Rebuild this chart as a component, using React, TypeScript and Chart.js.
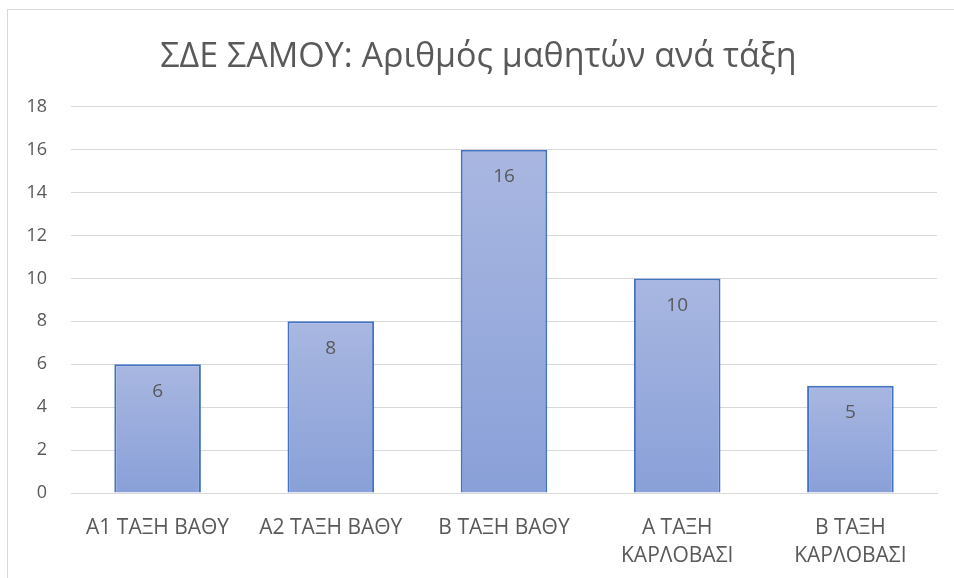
import React, { useEffect, useRef } from "react";
import { Chart, registerables } from "chart.js";

Chart.register(...registerables);

const categories: (string | string[])[] = [
  "Α1 ΤΑΞΗ ΒΑΘΥ",
  "Α2 ΤΑΞΗ ΒΑΘΥ",
  "Β ΤΑΞΗ ΒΑΘΥ",
  ["Α ΤΑΞΗ", "ΚΑΡΛΟΒΑΣΙ"],
  ["Β ΤΑΞΗ", "ΚΑΡΛΟΒΑΣΙ"],
];
const students = [6, 8, 16, 10, 5];
const yMin = 0;
const yMax = 18;
const yStep = 2;
const titleText = "ΣΔΕ ΣΑΜΟΥ: Αριθμός μαθητών ανά τάξη";

const FONT = "'Open Sans', sans-serif";
const GRAY = "#595959";

const valueLabels = {
  id: "valueLabels",
  afterDatasetsDraw(chart: any) {
    const ctx = chart.ctx;
    const meta = chart.getDatasetMeta(0);
    ctx.save();
    ctx.font = `19px ${FONT}`;
    ctx.fillStyle = GRAY;
    ctx.textAlign = "center";
    ctx.textBaseline = "middle";
    meta.data.forEach((bar: any, i: number) => {
      ctx.fillText(String(students[i]), bar.x, bar.y + 27);
    });
    ctx.restore();
  },
};

export default function App() {
  const ref = useRef<HTMLCanvasElement | null>(null);
  useEffect(() => {
    if (!ref.current) return;
    const chart = new Chart(ref.current, {
      type: "bar",
      data: {
        labels: categories,
        datasets: [
          {
            data: students,
            backgroundColor: (c: any) => {
              const ch = c.chart;
              const y = ch.scales?.y;
              if (!ch.chartArea || !y || c.dataIndex === undefined) return "#99abdc";
              const top = y.getPixelForValue(students[c.dataIndex]);
              const bottom = y.getPixelForValue(0);
              if (!isFinite(top) || !isFinite(bottom) || top === bottom) return "#99abdc";
              const g = ch.ctx.createLinearGradient(0, top, 0, bottom);
              g.addColorStop(0, "#a9b7e1");
              g.addColorStop(1, "#89a0d8");
              return g;
            },
            borderColor: "#4472c4",
            borderWidth: 2,
            barPercentage: 0.5,
            categoryPercentage: 1,
          },
        ],
      },
      options: {
        animation: false,
        responsive: true,
        maintainAspectRatio: false,
        layout: { padding: { left: 20, right: 17, top: 20, bottom: 0 } },
        plugins: {
          legend: { display: false },
          tooltip: { enabled: false },
          title: {
            display: true,
            text: titleText,
            color: GRAY,
            font: { family: FONT, size: 34, weight: "normal" },
            padding: { top: 17, bottom: 29 },
          },
        },
        scales: {
          x: {
            grid: { display: false },
            border: { color: "#d9d9d9", width: 1 },
            ticks: {
              color: GRAY,
              font: { family: FONT, size: 21, lineHeight: 1.33 },
              padding: 13,
              maxRotation: 0,
              autoSkip: false,
            },
            afterFit: (s: any) => {
              s.height = 85;
            },
          },
          y: {
            min: yMin,
            max: yMax,
            grid: { color: "#d9d9d9", lineWidth: 1, drawTicks: false },
            border: { display: false },
            ticks: {
              stepSize: yStep,
              color: GRAY,
              font: { family: FONT, size: 18 },
              padding: 24,
            },
            afterFit: (s: any) => {
              s.width = 51;
            },
          },
        },
      },
      plugins: [valueLabels],
    });
    return () => chart.destroy();
  }, []);
  return (
    <div style={{ position: "fixed", left: 0, top: 0, width: 954, height: 578, background: "#fff" }}>
      <div
        style={{
          position: "absolute",
          left: 7,
          top: 9,
          right: -2,
          bottom: -2,
          borderLeft: "1px solid #d9d9d9",
          borderTop: "1px solid #d9d9d9",
        }}
      />
      <div style={{ position: "absolute", left: 0, top: 0, width: 954, height: 578 }}>
        <canvas ref={ref} />
      </div>
    </div>
  );
}
